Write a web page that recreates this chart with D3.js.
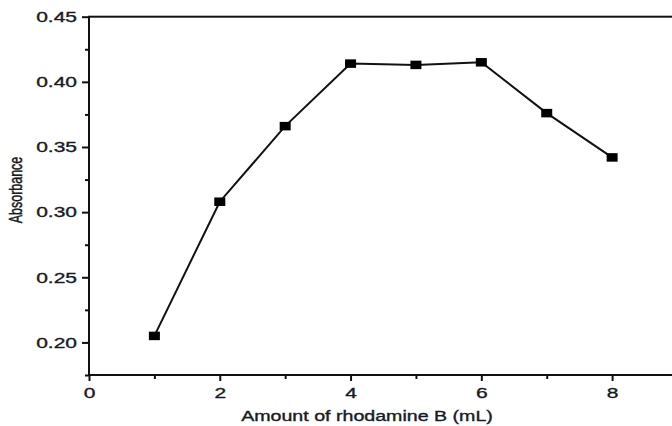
<!DOCTYPE html>
<html>
<head>
<meta charset="utf-8">
<script src="https://cdn.jsdelivr.net/npm/d3@7"></script>
<style>
  body { margin: 0; background: #fff; }
  svg { display: block; font-family: "Liberation Sans", Arial, sans-serif; }
</style>
</head>
<body>
<svg></svg>
<script>
const width = 672;
const height = 426;

// data
const volumes = [1, 2, 3, 4, 5, 6, 7, 8];
const absorbance = [0.205, 0.308, 0.366, 0.414, 0.413, 0.415, 0.376, 0.342];

const xMajor = [0, 2, 4, 6, 8];
const xMinor = [1, 3, 5, 7, 9];
const yMajor = [0.20, 0.25, 0.30, 0.35, 0.40, 0.45];
const yMinor = [0.175, 0.225, 0.275, 0.325, 0.375, 0.425];

const stretchX = 1.4; // the original figure is drawn wider than tall
const ink = "#161a26";

const svg = d3.select("svg")
    .attr("width", width)
    .attr("height", height);

const x = d3.scaleLinear().domain([0, 9]).range([89, 677.5]);
const y = d3.scaleLinear().domain([0.175, 0.45]).range([375, 16.7]);

// widen text the same way the figure is widened
function stretch(sel) {
    sel.each(function() {
        const len = this.getComputedTextLength();
        d3.select(this)
            .attr("textLength", len * stretchX)
            .attr("lengthAdjust", "spacingAndGlyphs");
    });
}

// slightly heavier glyphs, like the scanned figure
function ink2(sel) {
    sel.attr("fill", ink)
        .attr("stroke", ink)
        .attr("stroke-width", 0.35);
}

// frame
svg.append("rect")
    .attr("x", x(0))
    .attr("y", y(0.45))
    .attr("width", x(9) - x(0))
    .attr("height", y(0.175) - y(0.45))
    .attr("fill", "none")
    .attr("stroke", "#111")
    .attr("stroke-width", 2);

// minor ticks
svg.append("g")
    .attr("transform", `translate(0,${y(0.175)})`)
    .call(d3.axisBottom(x).tickValues(xMinor).tickSize(4).tickFormat(""))
    .call(g => g.select(".domain").remove())
    .call(g => g.selectAll("line").attr("stroke", "#111").attr("stroke-width", 2));

svg.append("g")
    .attr("transform", `translate(${x(0)},0)`)
    .call(d3.axisLeft(y).tickValues(yMinor).tickSize(4).tickFormat(""))
    .call(g => g.select(".domain").remove())
    .call(g => g.selectAll("line").attr("stroke", "#111").attr("stroke-width", 2));

// major axes
const xAxis = svg.append("g")
    .attr("transform", `translate(0,${y(0.175)})`)
    .call(d3.axisBottom(x).tickValues(xMajor).tickSize(6).tickPadding(6).tickFormat(d3.format("d")));

const yAxis = svg.append("g")
    .attr("transform", `translate(${x(0)},0)`)
    .call(d3.axisLeft(y).tickValues(yMajor).tickSize(7).tickPadding(5).tickFormat(d3.format(".2f")));

[xAxis, yAxis].forEach(g => {
    g.select(".domain").remove();
    g.selectAll("line").attr("stroke", "#111").attr("stroke-width", 2);
    g.selectAll("text")
        .attr("font-size", 15)
        .attr("font-family", "Liberation Sans, Arial, sans-serif")
        .call(ink2)
        .call(stretch);
});

// series line
const line = d3.line()
    .x((d, i) => x(volumes[i]))
    .y(d => y(d));

svg.append("path")
    .datum(absorbance)
    .attr("fill", "none")
    .attr("stroke", "#111")
    .attr("stroke-width", 2)
    .attr("d", line);

// square markers
const mw = 11, mh = 8.5;
svg.append("g")
    .selectAll("rect")
    .data(absorbance)
    .join("rect")
    .attr("x", (d, i) => x(volumes[i]) - mw / 2)
    .attr("y", d => y(d) - mh / 2)
    .attr("width", mw)
    .attr("height", mh)
    .attr("fill", "#000");

// axis titles
svg.append("text")
    .attr("x", 367)
    .attr("y", 421)
    .attr("text-anchor", "middle")
    .attr("font-size", 14)
    .call(ink2)
    .text("Amount of rhodamine B (mL)")
    .call(stretch);

svg.append("text")
    .attr("transform", `translate(22,190) scale(${stretchX},1) rotate(-90)`)
    .attr("text-anchor", "middle")
    .attr("font-size", 12.5)
    .call(ink2)
    .text("Absorbance");
</script>
</body>
</html>
